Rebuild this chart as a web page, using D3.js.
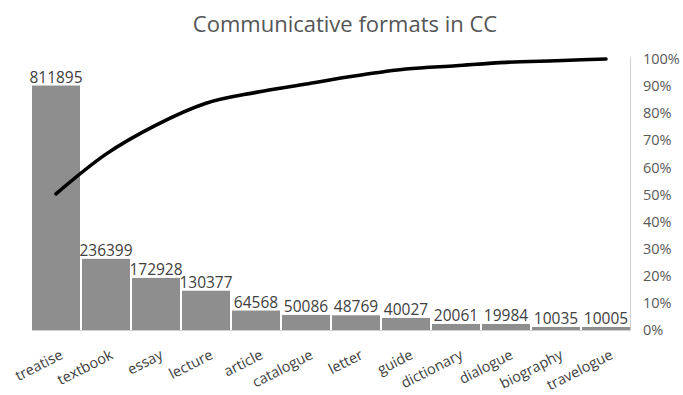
<!DOCTYPE html>
<html>
<head>
<meta charset="utf-8">
<script src="https://cdn.jsdelivr.net/npm/d3@7"></script>
<style>
  html, body { margin: 0; padding: 0; background: #fff; }
  svg text { font-family: "Open Sans", "Liberation Sans", sans-serif; }
</style>
</head>
<body>
<svg id="chart" width="683" height="395"></svg>
<script>
// Communicative formats, sorted by frequency (Pareto chart)
const categories = ["treatise", "textbook", "essay", "lecture", "article", "catalogue",
                    "letter", "guide", "dictionary", "dialogue", "biography", "travelogue"];
const counts = [811895, 236399, 172928, 130377, 64568, 50086,
                48769, 40027, 20061, 19984, 10035, 10005];
const percentTicks = [0, 0.1, 0.2, 0.3, 0.4, 0.5, 0.6, 0.7, 0.8, 0.9, 1];
const countMax = 900000;

// Running share of the total for the cumulative line
const total = d3.sum(counts);
const cumulative = d3.cumsum(counts).map(v => v / total);

const svg = d3.select("#chart");
const plot = { left: 32, right: 630, top: 59, bottom: 330 };

const x = d3.scaleBand()
  .domain(categories)
  .range([plot.left, plot.right])
  .paddingInner(0.04)
  .paddingOuter(0);

const yCount = d3.scaleLinear().domain([0, countMax]).range([plot.bottom, plot.top]);
const yPct = d3.scaleLinear().domain([0, 1]).range([plot.bottom, plot.top]);

// Title
svg.append("text")
  .attr("x", 345).attr("y", 32)
  .attr("text-anchor", "middle")
  .attr("font-size", 22)
  .attr("fill", "#555")
  .text("Communicative formats in CC");

// Plot frame: right edge and baseline
svg.append("line")
  .attr("x1", plot.right + 0.5).attr("x2", plot.right + 0.5)
  .attr("y1", plot.top - 2).attr("y2", plot.bottom + 1)
  .attr("stroke", "#d0d0d0").attr("stroke-width", 1);
svg.append("line")
  .attr("x1", plot.left).attr("x2", plot.right + 1)
  .attr("y1", plot.bottom + 0.5).attr("y2", plot.bottom + 0.5)
  .attr("stroke", "#d0d0d0").attr("stroke-width", 1);

// Bars
svg.append("g").selectAll("rect")
  .data(categories)
  .join("rect")
  .attr("x", d => x(d))
  .attr("width", x.bandwidth())
  .attr("y", (d, i) => yCount(counts[i]))
  .attr("height", (d, i) => yCount(0) - yCount(counts[i]))
  .attr("fill", "#8e8e8e");

// Value labels above the bars
svg.append("g").selectAll("text")
  .data(categories)
  .join("text")
  .attr("x", d => x(d) + x.bandwidth() / 2)
  .attr("y", (d, i) => yCount(counts[i]) - 3)
  .attr("text-anchor", "middle")
  .attr("font-size", 15.5)
  .attr("fill", "#404040")
  .text((d, i) => counts[i]);

// Cumulative percentage line
const line = d3.line()
  .x((d, i) => x(categories[i]) + x.bandwidth() / 2)
  .y(d => yPct(d))
  .curve(d3.curveMonotoneX);

svg.append("path")
  .datum(cumulative)
  .attr("d", line)
  .attr("fill", "none")
  .attr("stroke", "#000")
  .attr("stroke-width", 3.6)
  .attr("stroke-linecap", "round")
  .attr("stroke-linejoin", "round");

// Right-hand percentage axis (labels only)
const rightAxis = d3.axisRight(yPct)
  .tickValues(percentTicks)
  .tickFormat(d3.format(".0%"))
  .tickSize(0)
  .tickPadding(0);

const gRight = svg.append("g")
  .attr("transform", `translate(643,0)`)
  .call(rightAxis);
gRight.select(".domain").remove();
gRight.selectAll("text")
  .attr("font-size", 14.5)
  .attr("font-family", "\"Open Sans\", sans-serif")
  .attr("fill", "#595959");

// Category labels, rotated
const bottomAxis = d3.axisBottom(x).tickSize(0).tickPadding(0);
const gBottom = svg.append("g")
  .attr("transform", `translate(0,${plot.bottom})`)
  .call(bottomAxis);
gBottom.select(".domain").remove();
gBottom.selectAll("text")
  .attr("font-size", 14.5)
  .attr("font-family", "\"Open Sans\", sans-serif")
  .attr("fill", "#404040")
  .attr("text-anchor", "end")
  .attr("dy", 0)
  .attr("y", 0)
  .attr("transform", "translate(8,28) rotate(-27)");
</script>
</body>
</html>
